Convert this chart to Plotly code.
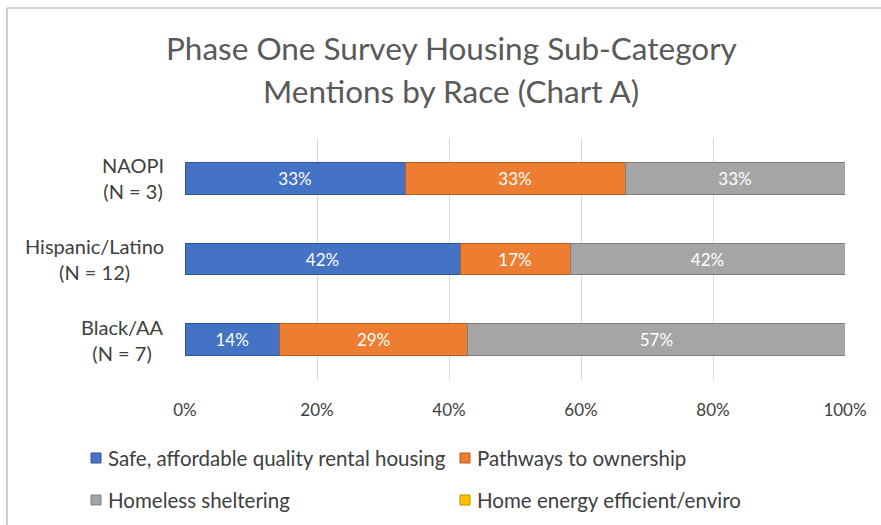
import plotly.graph_objects as go

# Survey responses per race group (counts of housing sub-category mentions)
groups = ["Black/AA", "Hispanic/Latino", "NAOPI"]
group_n = [7, 12, 3]
series_names = [
    "Safe, affordable quality rental housing",
    "Pathways to ownership",
    "Homeless sheltering",
    "Home energy efficient/enviro",
]
rental = [1, 5, 1]
ownership = [2, 2, 1]
sheltering = [4, 5, 1]
energy = [0, 0, 0]
series_counts = [rental, ownership, sheltering, energy]
colors = ["#4472C4", "#ED7D31", "#A5A5A5", "#FFC000"]
edge_colors = ["#2F5597", "#B85B1E", "#7F7F7F", "#BF9000"]
x_ticks = [0, 20, 40, 60, 80, 100]
title_lines = ["Phase One Survey Housing Sub-Category", "Mentions by Race (Chart A)"]

FONT = "Lato, Carlito, Calibri, sans-serif"
TEXT = "#404040"

# Plot area in pixels
W, H = 881, 525
L, R, T, B = 185, 36, 138, 145
PW, PH = W - L - R, H - T - B


def px_x(x):
    return (x - L) / PW


def px_y(y):
    return (H - B - y) / PH


fig = go.Figure()
for name, counts, col, ecol in zip(series_names, series_counts, colors, edge_colors):
    pct = [c / n * 100 for c, n in zip(counts, group_n)]
    fig.add_trace(go.Bar(
        y=groups, x=pct, name=name, orientation="h",
        marker=dict(color=col, line=dict(color=ecol, width=1)),
        text=[f"{p:.0f}%" if p > 0 else "" for p in pct],
        textposition="inside", insidetextanchor="middle",
        textfont=dict(family=FONT, size=17, color="white"),
        constraintext="none",
        showlegend=False,
    ))

annotations = []

# Two-line chart title
for line, ty in zip(title_lines, [48, 91]):
    annotations.append(dict(
        x=px_x(451), xref="paper", y=px_y(ty), yref="paper",
        text=line, showarrow=False, xanchor="center", yanchor="middle",
        font=dict(family=FONT, size=31.5, color="#595959"),
    ))

# Category labels: name over group size, lines centred on each other
for g, n in zip(groups, group_n):
    annotations.append(dict(
        x=px_x(166), xref="paper", y=g, yref="y",
        text=f"{g}<br>(N = {n})", showarrow=False,
        xanchor="right", yanchor="middle", align="center",
        font=dict(family=FONT, size=20, color=TEXT),
    ))

# Legend: two columns, two rows
shapes = []
legend_pos = [(91, 458), (460, 458), (91, 500), (460, 500)]
for name, col, ecol, (lx, ly) in zip(series_names, colors, edge_colors, legend_pos):
    shapes.append(dict(
        type="rect", xref="paper", yref="paper",
        x0=px_x(lx), x1=px_x(lx + 10), y0=px_y(ly + 5), y1=px_y(ly - 5),
        fillcolor=col, line=dict(color=ecol, width=1),
    ))
    annotations.append(dict(
        x=px_x(lx + 15), xref="paper", y=px_y(ly), yref="paper",
        text=name, showarrow=False, xanchor="left", yanchor="middle",
        font=dict(family=FONT, size=20.5, color=TEXT),
    ))

# Chart frame: top and left edges
frame = "#BFBFBF"
shapes.append(dict(type="line", xref="paper", yref="paper",
                   x0=px_x(7), x1=px_x(W), y0=px_y(8), y1=px_y(8),
                   line=dict(color=frame, width=1.5), layer="below"))
shapes.append(dict(type="line", xref="paper", yref="paper",
                   x0=px_x(7), x1=px_x(7), y0=px_y(8), y1=px_y(H),
                   line=dict(color=frame, width=1.5), layer="below"))

fig.update_layout(
    width=W, height=H,
    margin=dict(l=L, r=R, t=T, b=B),
    paper_bgcolor="white", plot_bgcolor="white",
    barmode="stack", bargap=0.605,
    xaxis=dict(
        range=[0, 100], tickvals=x_ticks, ticktext=[f"{v}%" for v in x_ticks],
        showgrid=True, gridcolor="#D9D9D9", gridwidth=1, zeroline=False,
        showline=False, ticks="", ticklabelstandoff=18,
        tickfont=dict(family=FONT, size=17, color=TEXT),
        fixedrange=True,
    ),
    yaxis=dict(
        showticklabels=False, showgrid=False, zeroline=False, showline=False,
        range=[-0.5, 2.5], categoryorder="array", categoryarray=groups,
    ),
    annotations=annotations, shapes=shapes,
    showlegend=False,
)

fig.write_html("out.html")
